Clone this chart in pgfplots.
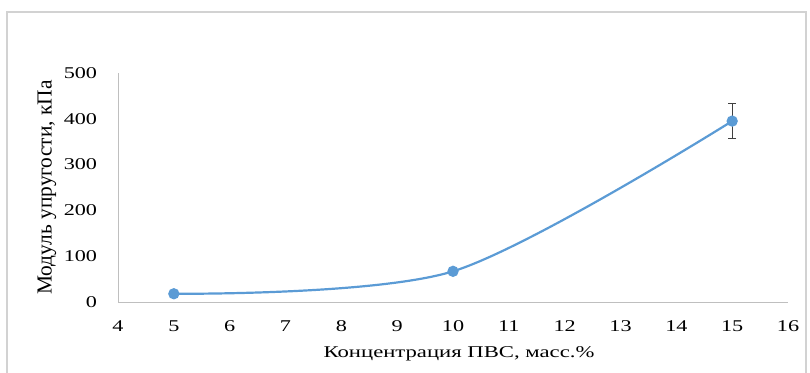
\documentclass[border=0pt]{standalone}
\usepackage{fontspec}
\setmainfont{Liberation Serif}
\usepackage{graphicx}
\usepackage{pgfplots}
\pgfplotsset{compat=1.18}
\definecolor{xlblue}{HTML}{5B9BD5}
\begin{document}
\begin{tikzpicture}[x=1bp,y=1bp]
\path[use as bounding box] (0,0) rectangle (810,372);
\draw[gray!35, line width=1.2bp] (7,-10) rectangle (806,360);
\begin{axis}[
  at={(118bp,70bp)}, anchor=south west,
  scale only axis, width=670bp, height=229bp,
  xmin=4, xmax=16, ymin=0, ymax=500,
  xtick={4,5,...,16}, ytick={0,100,...,500},
  axis x line*=bottom, axis y line*=left,
  axis line style={gray!50, line width=0.8bp, -},
  major tick length=0pt,
  /pgf/number format/assume math mode=true,
  tick label style={font=\fontsize{16.5}{18}\selectfont, black, xscale=1.35},
  xticklabel style={yshift=-15bp},
  yticklabel style={xshift=-12bp},
  xlabel={\scalebox{1.38}[1]{Концентрация ПВС, масс.\%}},
  ylabel={Модуль упругости, кПа},
  xlabel style={font=\fontsize{16.5}{18}\selectfont, at={(axis description cs:0.5,-0.227)}, anchor=center, xshift=6bp},
  ylabel style={font=\fontsize{21.5}{24}\selectfont, at={(axis description cs:-0.106,0.5)}, anchor=center},
  clip=false,
]
\addplot[draw=none, mark=none, forget plot,
  error bars/.cd, y dir=both, y explicit,
  error bar style={black!75, line width=1bp},
  error mark options={rotate=90, mark size=4bp, black!75, line width=1bp}]
  coordinates {(15,395) +- (0,38)};
\addplot[xlblue, line width=2.2bp, smooth, tension=0.5,
  mark=*, mark size=4.5bp, mark options={fill=xlblue, draw=xlblue}]
  coordinates {(5,18) (10,67) (15,395)};
\end{axis}
\end{tikzpicture}
\end{document}
